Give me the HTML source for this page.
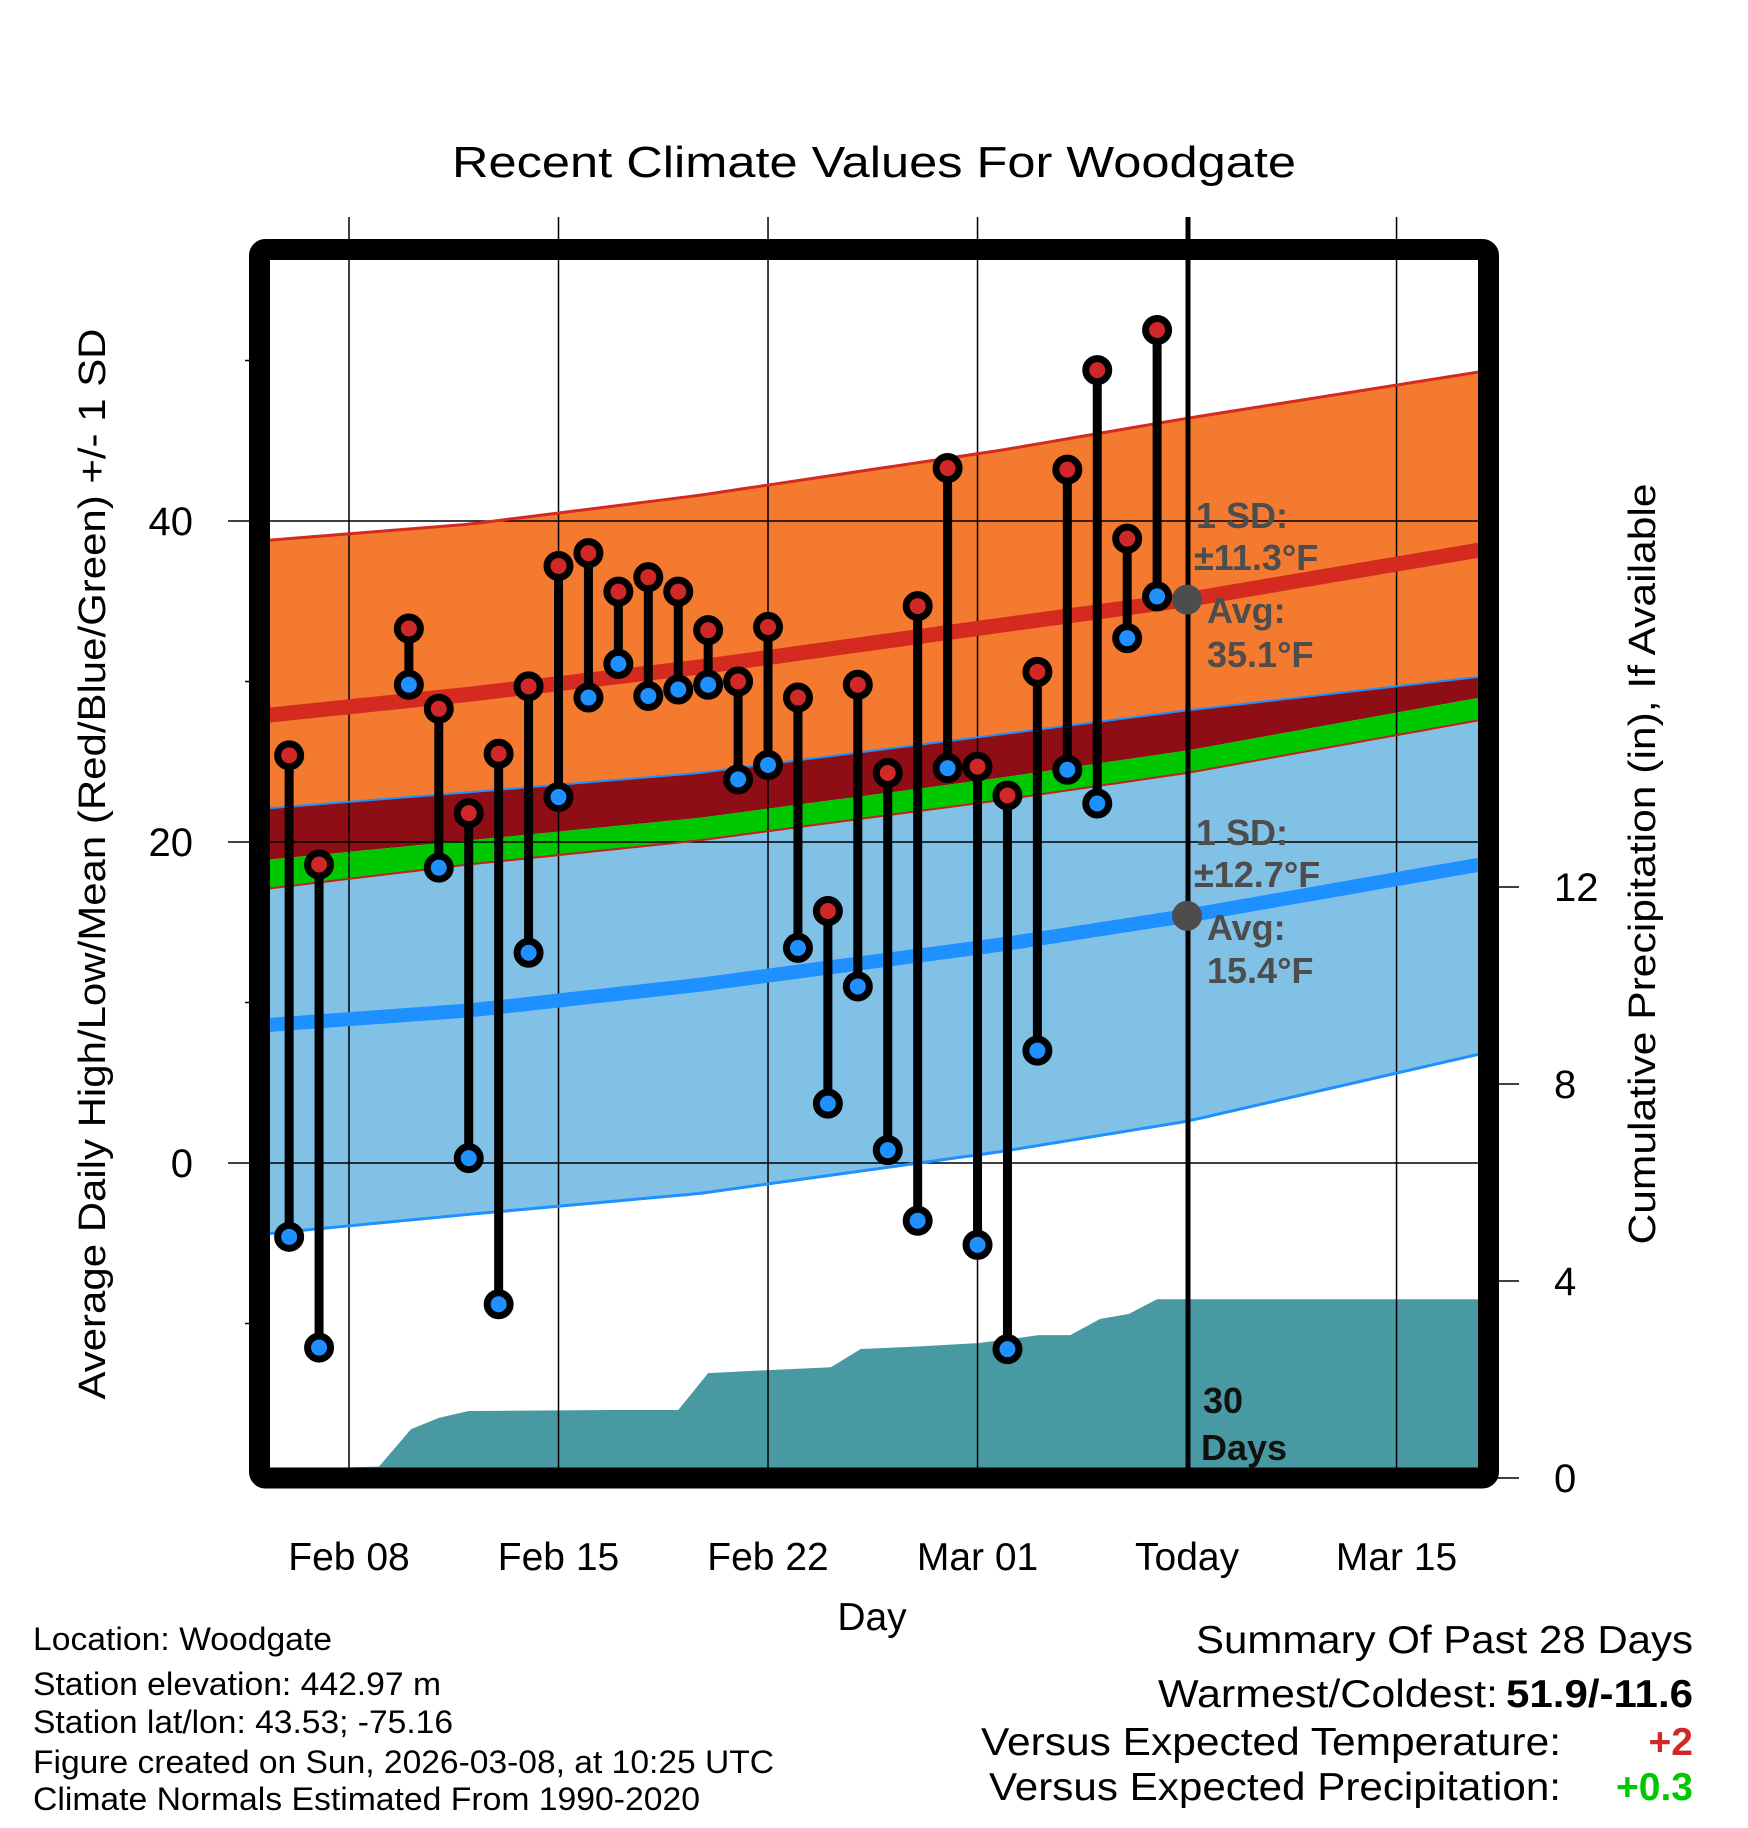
<!DOCTYPE html>
<html><head><meta charset="utf-8"><style>
html,body{margin:0;padding:0;background:#fff;}
svg{display:block;font-family:"Liberation Sans",Arial,sans-serif;}
</style></head><body>
<svg id="chart" width="1748" height="1828" viewBox="0 0 1748 1828" xmlns="http://www.w3.org/2000/svg">
<defs><clipPath id="pc"><rect x="270" y="260" width="1208" height="1208"/></clipPath></defs>
<g id="bands" clip-path="url(#pc)"></g>
<g id="precip" clip-path="url(#pc)"></g>
<g id="grid"></g>
<g id="lines" clip-path="url(#pc)"></g>
<line x1="1188" y1="217" x2="1188" y2="1468" stroke="#000" stroke-width="5"/>
<g id="marks"></g>
<g id="annot" font-weight="bold" fill="#4d4d4d" font-size="36">
<text x="1196" y="528">1 SD:</text>
<text x="1194" y="570">±11.3°F</text>
<text x="1207" y="623">Avg:</text>
<text x="1207" y="667">35.1°F</text>
<text x="1196" y="845">1 SD:</text>
<text x="1194" y="887">±12.7°F</text>
<text x="1207" y="940">Avg:</text>
<text x="1207" y="983">15.4°F</text>
</g>
<text x="1203" y="1413" font-size="36" font-weight="bold" fill="#111">30</text>
<text x="1201" y="1460" font-size="36" font-weight="bold" fill="#111">Days</text>
<rect x="259.5" y="249.5" width="1229" height="1228.5" rx="6" fill="none" stroke="#000" stroke-width="21"/>
<g id="axes"></g>
<text x="874" y="177" font-size="44" text-anchor="middle" textLength="844" lengthAdjust="spacingAndGlyphs">Recent Climate Values For Woodgate</text>
<text x="872" y="1630" font-size="39" text-anchor="middle">Day</text>
<text transform="translate(105,864) rotate(-90)" font-size="38" text-anchor="middle" textLength="1071" lengthAdjust="spacingAndGlyphs">Average Daily High/Low/Mean (Red/Blue/Green) +/- 1 SD</text>
<text transform="translate(1655,864) rotate(-90)" font-size="38" text-anchor="middle" textLength="761" lengthAdjust="spacingAndGlyphs">Cumulative Precipitation (in), If Available</text>
<g font-size="32">
<text x="33" y="1650" textLength="299" lengthAdjust="spacingAndGlyphs">Location: Woodgate</text>
<text x="33" y="1695" textLength="408" lengthAdjust="spacingAndGlyphs">Station elevation: 442.97 m</text>
<text x="33" y="1733" textLength="420" lengthAdjust="spacingAndGlyphs">Station lat/lon: 43.53; -75.16</text>
<text x="33" y="1773" textLength="741" lengthAdjust="spacingAndGlyphs">Figure created on Sun, 2026-03-08, at 10:25 UTC</text>
<text x="33" y="1810" textLength="667" lengthAdjust="spacingAndGlyphs">Climate Normals Estimated From 1990-2020</text>
</g>
<g font-size="39">
<text x="1693" y="1653" text-anchor="end" textLength="497" lengthAdjust="spacingAndGlyphs">Summary Of Past 28 Days</text>
<text x="1158" y="1707" textLength="340" lengthAdjust="spacingAndGlyphs">Warmest/Coldest:</text>
<text x="1693" y="1707" text-anchor="end" font-weight="bold" textLength="187" lengthAdjust="spacingAndGlyphs">51.9/-11.6</text>
<text x="981" y="1755" textLength="580" lengthAdjust="spacingAndGlyphs">Versus Expected Temperature:</text>
<text x="1693" y="1755" text-anchor="end" font-weight="bold" fill="#d02828">+2</text>
<text x="989" y="1800" textLength="572" lengthAdjust="spacingAndGlyphs">Versus Expected Precipitation:</text>
<text x="1693" y="1800" text-anchor="end" font-weight="bold" fill="#00c800">+0.3</text>
</g>
</svg>
<script>
// ---- data ----
const obsDays = [-2,-1,2,3,4,5,6,7,8,9,10,11,12,13,14,15,16,17,18,19,20,21,22,23,24,25,26,27];
const highs = [25.4,18.6,33.3,28.3,21.8,25.5,29.7,37.2,38.0,35.6,36.5,35.6,33.2,30.0,33.4,29.0,15.7,29.8,24.3,34.7,43.3,24.7,22.9,30.6,43.2,49.4,38.9,51.9];
const lows = [-4.6,-11.5,29.8,18.4,0.3,-8.8,13.1,22.8,29.0,31.1,29.1,29.5,29.8,23.9,24.8,13.4,3.7,11.0,0.8,-3.6,24.6,-5.1,-11.6,7.0,24.5,22.4,32.7,35.3];
const normDays = [-2.7,4,11.7,21.75,28,37.8];
const hiTop = [38.8,39.8,41.6,44.4,46.4,49.3];
const hiAvg = [27.9,29.2,30.9,33.5,35.1,38.2];
const hiBottom = [22.1,23.1,24.3,26.7,28.2,30.3];
const meanTop = [18.9,20.1,21.5,24.0,25.7,29.0];
const loTop = [17.1,18.6,20.1,22.6,24.3,27.6];
const loAvg = [8.6,9.5,11.1,13.6,15.4,18.6];
const loBottom = [-4.4,-3.2,-1.9,0.7,2.6,6.8];
const precipDays = [-1.1,1,2.07,3,4,8.7,11,12,14,16.1,17.1,19,21.05,23.05,24.1,25.1,26.05,27,37.8];
const precipCum = [0.2,0.23,0.99,1.22,1.36,1.38,1.38,2.13,2.19,2.25,2.62,2.67,2.74,2.9,2.9,3.23,3.33,3.63,3.63];
const xTickDays = [0,7,14,21,28,35];
const xTickLabels = ["Feb 08","Feb 15","Feb 22","Mar 01","Today","Mar 15"];
const yTicks = [0,20,40];
const yMinor = [-10,10,30,50];
const pTicks = [0,4,8,12];
// ---- scales ----
const xd = d => 349 + d*29.93;
const yt = v => 1163 - v*16.05;
const yp = p => 1478 - p*49.25;
const NS = "http://www.w3.org/2000/svg";
function mk(tag, attrs, parent){const e=document.createElementNS(NS,tag);for(const k in attrs)e.setAttribute(k,attrs[k]);parent.appendChild(e);return e;}
function interp(arr,d){for(let i=0;i<normDays.length-1;i++){if(d<=normDays[i+1]||i===normDays.length-2){const t=(d-normDays[i])/(normDays[i+1]-normDays[i]);return arr[i]+(arr[i+1]-arr[i])*t;}}}
function pts(arr){const o=[];for(let d=normDays[0];d<=normDays[normDays.length-1]+0.01;d+=0.5)o.push([xd(d),yt(interp(arr,d))]);return o;}
function band(top,bot,fill,name){
  const a=pts(top),b=pts(bot).reverse();
  const p=mk('polygon',{points:a.concat(b).map(q=>q.join(',')).join(' '),fill:fill},document.getElementById('bands'));
  
  
}
band(hiTop,hiBottom,'#f47a2f','high-sd-band');
band(hiBottom,meanTop,'#8f0d14','overlap-band');
band(meanTop,loTop,'#00c800','mean-band');
band(loTop,loBottom,'#82c1e6','low-sd-band');
function line(arr,color,w,name){
  const p=mk('polyline',{points:pts(arr).map(q=>q.join(',')).join(' '),fill:'none',stroke:color,'stroke-width':w},document.getElementById('lines'));
  
  
}
// precip
(function(){
  const g=document.getElementById('precip');
  let s=[[xd(precipDays[0]),1480]];
  for(let i=0;i<precipDays.length;i++)s.push([xd(precipDays[i]),yp(precipCum[i])]);
  s.push([xd(precipDays[precipDays.length-1]),1480]);
  const p=mk('polygon',{points:s.map(q=>q.join(',')).join(' '),fill:'#4899a2'},g);
  
  
})();
line(hiTop,'#d42a20',3,'high-plus-sd-line');
line(hiAvg,'#d42a20',15,'high-average-line');
line(hiBottom,'#1e90ff',2,'high-minus-sd-line');
line(loTop,'#c02020',2,'low-plus-sd-line');
line(loAvg,'#1e90ff',14,'low-average-line');
line(loBottom,'#1e90ff',3,'low-minus-sd-line');
// grid
const grid=document.getElementById('grid');
xTickDays.forEach((d,i)=>{
  const l=mk('line',{x1:xd(d),x2:xd(d),y1:217,y2:1468,stroke:'#000','stroke-width':1.5},grid);
  
  
});
yTicks.forEach(v=>{
  const l=mk('line',{x1:228,x2:1478,y1:yt(v),y2:yt(v),stroke:'#000','stroke-width':1.5},grid);
  
  
});
// axes labels
const axes=document.getElementById('axes');
xTickDays.forEach((d,i)=>{
  const t=mk('text',{x:xd(d),y:1570,'font-size':39,'text-anchor':'middle'},axes);
  t.textContent=xTickLabels[i];
  
  
});
yTicks.forEach(v=>{
  const t=mk('text',{x:193,y:yt(v)+14,'font-size':40,'text-anchor':'end'},axes);
  t.textContent=v;
  
  
});
yMinor.forEach(v=>{
  const l=mk('line',{x1:245,x2:252,y1:yt(v),y2:yt(v),stroke:'#000','stroke-width':1.5},axes);
  
  
});
pTicks.forEach(p=>{
  const l=mk('line',{x1:1495,x2:1519,y1:yp(p),y2:yp(p),stroke:'#000','stroke-width':1.5},axes);
  
  
  const t=mk('text',{x:1554,y:yp(p)+14,'font-size':40},axes);
  t.textContent=p;
  
  
});
// marks
const marks=document.getElementById('marks');
obsDays.forEach((d,i)=>{
  const s=mk('line',{x1:xd(d),x2:xd(d),y1:yt(highs[i]),y2:yt(lows[i]),stroke:'#000','stroke-width':9},marks);
  
  
});
obsDays.forEach((d,i)=>{
  const h=mk('circle',{cx:xd(d),cy:yt(highs[i]),r:11.5,fill:'#d02828',stroke:'#000','stroke-width':7},marks);
  
  
  const l=mk('circle',{cx:xd(d),cy:yt(lows[i]),r:11.5,fill:'#1e90ff',stroke:'#000','stroke-width':7},marks);
  
  
});
const dh=mk('circle',{cx:xd(28),cy:yt(interp(hiAvg,28)),r:15,fill:'#4d4d4d'},marks);


const dl=mk('circle',{cx:xd(28),cy:yt(interp(loAvg,28)),r:15,fill:'#4d4d4d'},marks);


</script>
</body></html>
